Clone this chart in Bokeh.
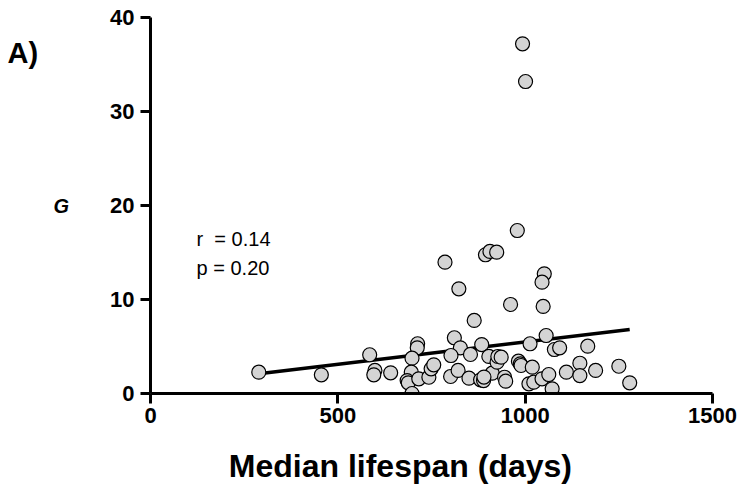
from bokeh.plotting import figure
from bokeh.layouts import row
from bokeh.models import Range1d, Label, FixedTicker
from bokeh.core.properties import value
from bokeh.embed import file_html
from bokeh.resources import INLINE

# Median lifespan (days) and G values
lifespan = [289, 456, 585, 599, 596, 641, 713, 712, 698, 696, 685, 688, 698,
            716, 743, 749, 756, 811, 827, 802, 854, 884, 903, 801, 821, 850,
            881, 889, 912, 925, 927, 936, 890, 945, 948, 982, 987, 989, 1019,
            1013, 1056, 1078, 1092, 1167, 1010, 1023, 1045, 1063, 1072, 1110,
            1146, 1146, 1188, 1250, 1279, 961, 1048, 979, 894, 906, 924, 786,
            1051, 1045, 823, 864, 993, 1001]
G = [2.27, 1.99, 4.12, 2.45, 1.99, 2.20, 5.29, 4.86, 3.76, 2.27, 1.38, 1.14, 0.0,
     1.56, 1.73, 2.63, 3.05, 5.93, 4.86, 4.04, 4.15, 5.21, 3.94, 1.81, 2.45, 1.63,
     1.46, 1.38, 2.16, 3.33, 3.94, 3.86, 1.75, 1.73, 1.31, 3.44, 3.16, 2.98, 2.80,
     5.29, 6.17, 4.68, 4.86, 5.03, 1.03, 1.20, 1.56, 2.02, 0.50, 2.27,
     3.22, 1.91, 2.45, 2.90, 1.14, 9.47, 9.26, 17.34, 14.76, 15.11, 15.03, 13.97,
     12.73, 11.84, 11.14, 7.77, 37.2, 33.19]

# Regression line
fit_slope = 0.00476
fit_intercept = 0.72

x_ticks = [0, 500, 1000, 1500]
y_ticks = [0, 10, 20, 30, 40]

panel_label = ["A)"]

FONT = "Liberation Sans"
H = 488
LEFT_W = 48

# narrow panel holding the "A)" panel letter
pa = figure(width=LEFT_W, height=H, output_backend="svg", toolbar_location=None,
            x_range=Range1d(0, 1), y_range=Range1d(0, 1),
            x_axis_location=None, y_axis_location=None,
            min_border_left=0, min_border_right=0, min_border_top=0,
            min_border_bottom=0)
pa.outline_line_color = None
pa.grid.visible = False
pa.text(x=[7 / LEFT_W], y=[1 - 46 / H], text=panel_label,
        text_font=value(FONT), text_font_style="bold",
        text_font_size="29px", text_color="black",
        text_baseline="alphabetic", text_align="left")

p = figure(width=740 - LEFT_W, height=H, output_backend="svg",
           toolbar_location=None,
           x_range=Range1d(0, 1500), y_range=Range1d(0, 40),
           min_border_left=150 - LEFT_W, min_border_right=28,
           min_border_top=17, min_border_bottom=95)
p.outline_line_color = None
p.grid.visible = False
p.background_fill_color = "white"

for ax in (p.xaxis[0], p.yaxis[0]):
    ax.axis_line_width = 3
    ax.axis_line_color = "black"
    ax.major_tick_line_width = 3
    ax.major_tick_line_color = "black"
    ax.major_tick_out = 10
    ax.major_tick_in = 0
    ax.minor_tick_line_color = None
    ax.major_label_text_font = FONT
    ax.major_label_text_font_style = "bold"
    ax.major_label_text_font_size = "22px"
    ax.major_label_text_color = "black"
    ax.axis_label_text_font = FONT
    ax.axis_label_text_color = "black"

p.xaxis.ticker = FixedTicker(ticks=x_ticks)
p.yaxis.ticker = FixedTicker(ticks=y_ticks)
p.xaxis.major_label_standoff = 4
p.yaxis.major_label_standoff = 6

# trailing no-break spaces shift the centred title left, as in the reference
p.xaxis.axis_label = "Median lifespan (days)" + "\u00a0" * 7
p.xaxis.axis_label_text_font_style = "bold"
p.xaxis.axis_label_text_font_size = "32px"
p.xaxis.axis_label_standoff = 22

p.yaxis.axis_label = "G"
p.yaxis.axis_label_orientation = "horizontal"
p.yaxis.axis_label_text_font_style = "bold italic"
p.yaxis.axis_label_text_font_size = "20px"
p.yaxis.axis_label_standoff = 38

fit_x = [min(lifespan), max(lifespan)]
fit_y = [fit_intercept + fit_slope * v for v in fit_x]
p.line(fit_x, fit_y, line_color="black", line_width=3.5)

p.scatter(lifespan, G, size=14, fill_color="#d4d4d4", line_color="black",
          line_width=1.2)

p.add_layout(Label(x=123, y=15.3, text="r\u00a0\u00a0= 0.14", text_font=FONT,
                   text_font_size="20px", text_color="black"))
p.add_layout(Label(x=123, y=12.2, text="p = 0.20", text_font=FONT,
                   text_font_size="20px", text_color="black"))

layout = row(pa, p, spacing=0)
open("out.html", "w").write(file_html(layout, INLINE))
